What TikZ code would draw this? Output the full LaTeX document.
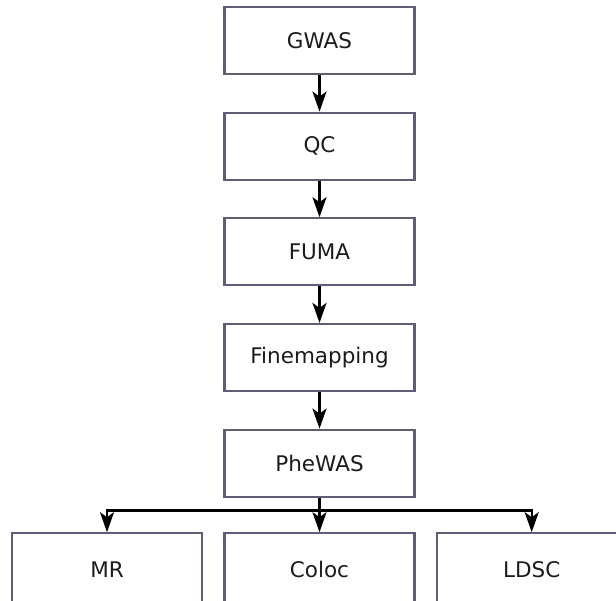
\documentclass[tikz,border=0pt]{standalone}
\usepackage{fontspec}
\setmainfont{DejaVu Sans}
\usetikzlibrary{arrows.meta}
\definecolor{boxline}{HTML}{5E5E7C}
\definecolor{labeltext}{HTML}{1C1C1C}
\tikzset{
  stagebox/.style={draw=boxline, line width=2.2pt, fill=white,
    minimum width=190pt, minimum height=67pt, inner sep=0pt,
    text=labeltext, font=\fontsize{21.5}{25}\selectfont},
  leafbox/.style={stagebox, minimum height=72pt},
  flow/.style={draw=black, line width=2.4pt,
    -{Stealth[length=20pt, width=14pt, inset=5pt]}},
}
\begin{document}
\begin{tikzpicture}[x=1pt, y=1pt]
  \useasboundingbox (0,0) rectangle (616,-600);
  \clip (0,0) rectangle (616,-600);
  % main pipeline
  \node[stagebox] (gwas)  at (319.5,-40.5)  {GWAS};
  \node[stagebox] (qc)    at (319.5,-146.2) {QC};
  \node[stagebox] (fuma)  at (319.5,-251.8) {FUMA};
  \node[stagebox] (fine)  at (319.5,-357.5) {Finemapping};
  \node[stagebox] (phewas) at (319.5,-463.2) {PheWAS};
  % downstream analyses (lower edges run past the page)
  \node[leafbox] (mr)    at (107,-569.3)   {MR};
  \node[leafbox] (coloc) at (319.5,-569.3) {Coloc};
  \node[leafbox] (ldsc)  at (531.7,-569.3) {LDSC};
  % connectors
  \draw[flow] (gwas) -- (qc);
  \draw[flow] (qc) -- (fuma);
  \draw[flow] (fuma) -- (fine);
  \draw[flow] (fine) -- (phewas);
  \coordinate (split) at ([yshift=-12.6pt]phewas.south);
  \draw[flow] (phewas.south) -- (split) -| (mr.north);
  \draw[flow] (phewas.south) -- (coloc.north);
  \draw[flow] (phewas.south) -- (split) -| (ldsc.north);
\end{tikzpicture}
\end{document}
